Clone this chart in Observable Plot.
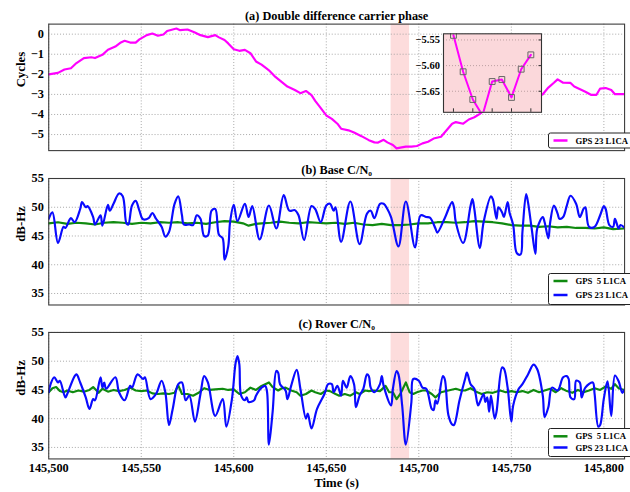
<!DOCTYPE html>
<html>
<head>
<meta charset="utf-8">
<script src="https://cdn.jsdelivr.net/npm/d3@7"></script>
<script src="https://cdn.jsdelivr.net/npm/@observablehq/plot@0.6"></script>
<style>
  html, body { margin: 0; padding: 0; background: #fff; }
  #fig { position: relative; width: 630px; height: 492px; overflow: hidden; background: #fff; }
  #fig > svg { position: absolute; }
</style>
</head>
<body>
<div id="fig"></div>
<script>
// ---- time axis (GPS seconds of week) ----
const startTime = 145500;
const timeDomain = [145500, 145811.2];
const timeTicks = [145500, 145550, 145600, 145650, 145700, 145750, 145800];
const highlight = [{start: 145685, end: 145695}];

// ---- (a) double difference carrier phase, GPS 23 L1CA ----
const ddOffsets = [0, 5, 8.5, 12, 15, 19, 23, 25, 29, 32, 36, 39, 41, 44, 47, 49, 53, 56, 59, 62, 64, 69, 71, 75, 79, 82, 86, 90, 92, 95, 97, 100, 103, 106, 109, 112, 115, 118, 119, 122, 126, 129, 133, 136, 139, 142, 144, 146, 150, 153, 156, 158, 162, 165, 169, 173, 176, 178, 181, 183, 186, 188, 190, 193, 196, 199, 202, 205, 208, 212, 215, 218, 220, 224, 227, 230, 233, 236, 240, 245, 252, 257, 261, 263, 267, 270, 273, 275, 278, 282, 284, 288, 290, 293, 296, 298, 301, 304, 306, 309, 311];
const ddCycles = [-2.00, -1.93, -1.76, -1.70, -1.44, -1.19, -1.15, -1.19, -1.03, -0.78, -0.62, -0.41, -0.33, -0.42, -0.42, -0.26, -0.05, 0.03, -0.08, -0.02, 0.16, 0.28, 0.20, 0.23, 0.08, -0.05, -0.15, -0.05, -0.16, -0.29, -0.46, -0.75, -0.83, -0.78, -0.95, -1.36, -1.52, -1.73, -1.80, -2.09, -2.39, -2.61, -2.78, -2.94, -2.83, -3.04, -3.32, -3.56, -4.05, -4.22, -4.46, -4.71, -4.79, -4.90, -5.08, -5.28, -5.39, -5.40, -5.26, -5.39, -5.52, -5.69, -5.65, -5.60, -5.60, -5.57, -5.44, -5.36, -5.20, -5.11, -4.79, -4.46, -4.38, -4.46, -4.25, -4.14, -3.97, -3.73, -3.80, -3.85, -3.60, -3.40, -3.24, -3.18, -2.99, -2.66, -2.42, -2.25, -2.42, -2.43, -2.61, -2.78, -2.87, -3.02, -3.02, -2.71, -2.68, -2.78, -2.99, -2.99, -2.99];

// zoomed epochs inside the highlighted interval
const insetSample = [0, 1, 2, 3, 4, 5, 6, 7, 8];
const insetCycles = [-5.541, -5.612, -5.666, -5.697, -5.631, -5.627, -5.662, -5.607, -5.579];
const insetTicksX = [0, 2, 4, 6, 8];
const insetTicksY = [-5.65, -5.60, -5.55];

// ---- (b) base station C/N0 ----
const baseOffsets5 = [0, 5, 10, 15, 20, 25, 30, 35, 40, 45, 50, 55, 60, 65, 70, 75, 80, 85, 90, 95, 100, 105, 108, 112, 115, 120, 125, 130, 135, 140, 145, 150, 155, 160, 165, 170, 175, 180, 185, 190, 195, 200, 205, 210, 215, 220, 225, 230, 235, 240, 245, 250, 255, 260, 265, 270, 275, 280, 285, 290, 295, 300, 305, 311];
const baseCn5 = [47.2, 47.4, 47.1, 47.3, 47.2, 47.0, 47.3, 47.4, 47.3, 47.1, 47.3, 47.2, 47.4, 47.3, 47.4, 47.2, 47.3, 47.1, 47.4, 47.6, 47.5, 47.2, 46.8, 47.1, 47.2, 47.3, 47.5, 47.3, 47.2, 47.4, 47.3, 47.2, 47.3, 47.1, 47.3, 47.0, 46.9, 47.1, 46.9, 46.9, 47.0, 47.2, 47.2, 47.4, 47.4, 47.3, 47.4, 47.6, 47.5, 47.4, 47.2, 46.9, 46.8, 46.8, 46.6, 46.7, 46.5, 46.6, 46.4, 46.4, 46.3, 46.5, 46.2, 46.3];
const baseOffsets23 = [0, 2, 5, 8, 9, 12, 14, 17, 18, 20, 21, 24, 25, 28, 29, 32, 33, 35, 38, 40, 42, 43, 45, 47, 49, 51, 54, 56, 58, 61, 63, 65, 68, 70, 72, 73, 76, 78, 80, 82, 84, 86, 88, 90, 92, 94, 95, 97, 98, 100, 102, 106, 108, 110, 114, 119, 123, 127, 130, 133, 135, 138, 142, 144, 147, 150, 152, 154, 155, 158, 163, 168, 172, 174, 176, 179, 181, 183, 185, 189, 193, 198, 201, 204, 206, 209, 210, 214, 218, 219, 220, 224, 228, 229, 230, 233, 235, 239, 240, 242, 243, 245, 246, 248, 249, 251, 253, 255, 256, 258, 259, 261, 263, 264, 267, 268, 270, 271, 273, 275, 276, 278, 280, 282, 285, 287, 289, 290, 292, 295, 298, 300, 301, 303, 305, 306, 308, 309, 311];
const baseCn23 = [48.0, 49.1, 43.8, 46.6, 46.4, 48.1, 47.4, 49.7, 50.9, 50.0, 50.2, 48.3, 47.0, 48.6, 46.8, 50.4, 49.4, 50.6, 52.4, 51.9, 47.2, 47.0, 50.3, 51.1, 49.4, 47.9, 48.1, 49.0, 48.0, 46.6, 44.9, 45.7, 50.6, 51.9, 48.6, 47.0, 47.0, 46.9, 48.6, 48.0, 45.0, 45.1, 49.4, 49.7, 45.2, 44.6, 40.9, 43.2, 47.4, 50.4, 47.6, 50.6, 48.3, 50.2, 44.4, 50.3, 46.3, 52.1, 49.4, 49.5, 48.6, 44.3, 50.2, 49.7, 47.4, 50.3, 50.6, 49.4, 50.0, 44.0, 51.0, 43.6, 48.9, 49.4, 48.1, 50.6, 50.6, 49.7, 48.3, 43.2, 51.0, 43.0, 48.6, 48.3, 48.2, 46.3, 45.6, 48.1, 50.9, 50.0, 47.4, 43.8, 50.3, 51.4, 49.7, 42.9, 47.4, 51.9, 51.4, 48.0, 50.0, 49.1, 48.3, 50.9, 49.1, 46.9, 42.0, 41.8, 45.7, 52.3, 50.9, 46.3, 41.9, 46.3, 48.3, 47.4, 44.6, 47.4, 50.3, 48.9, 48.0, 48.3, 50.3, 52.0, 50.6, 48.3, 49.7, 50.0, 46.6, 46.6, 48.6, 50.2, 49.7, 46.9, 46.6, 48.0, 46.3, 46.9, 46.5];

// ---- (c) rover C/N0 ----
const roverOffsets5 = [0, 2, 4, 6, 8, 10, 13, 16, 19, 22, 24, 27, 29, 32, 35, 38, 41, 44, 47, 50, 53, 56, 59, 62, 65, 68, 70, 72, 75, 78, 81, 84, 87, 90, 94, 97, 100, 103, 106, 109, 112, 115, 117, 119, 121, 124, 126, 128, 131, 134, 136, 139, 142, 144, 147, 150, 152, 155, 157, 160, 163, 166, 168, 171, 173, 176, 179, 182, 184, 186, 188, 190, 193, 195, 197, 199, 202, 204, 207, 209, 212, 216, 220, 223, 225, 228, 231, 234, 237, 240, 244, 247, 250, 253, 256, 259, 262, 265, 268, 271, 274, 277, 280, 283, 286, 289, 292, 295, 298, 301, 304, 306, 308, 311];
const roverCn5 = [44.6, 45.3, 45.5, 44.8, 44.6, 44.9, 44.6, 44.9, 44.7, 45.0, 45.5, 44.5, 45.2, 44.7, 45.0, 44.8, 45.0, 45.4, 44.9, 44.8, 44.9, 44.4, 44.3, 44.4, 44.3, 44.5, 45.8, 44.3, 44.3, 44.0, 44.5, 45.3, 45.0, 45.1, 45.2, 45.0, 45.1, 44.3, 44.6, 45.4, 45.0, 45.7, 46.0, 46.3, 45.5, 44.9, 45.3, 45.4, 44.9, 44.6, 44.0, 44.3, 44.9, 44.6, 44.3, 44.9, 44.8, 44.3, 44.0, 44.3, 44.0, 44.6, 44.3, 44.9, 44.8, 44.9, 44.8, 45.7, 44.6, 44.6, 43.4, 44.3, 46.3, 44.6, 44.3, 44.6, 44.9, 44.9, 44.3, 43.7, 44.6, 44.9, 45.2, 44.9, 44.9, 45.3, 44.7, 44.3, 44.6, 44.5, 44.9, 44.6, 44.8, 44.6, 44.8, 44.5, 45.0, 44.6, 44.9, 45.2, 44.6, 45.3, 44.8, 44.5, 45.0, 44.6, 44.9, 45.3, 45.0, 45.6, 45.2, 46.0, 45.3, 45.0];
const roverOffsets23 = [0, 1, 3, 5, 6, 9, 10, 14, 15, 17, 20, 22, 24, 25, 28, 29, 30, 31, 36, 38, 41, 44, 45, 48, 51, 52, 55, 58, 61, 63, 65, 67, 70, 72, 74, 76, 79, 82, 84, 86, 90, 94, 96, 99, 101, 102, 103, 104, 106, 107, 108, 111, 112, 115, 117, 118, 119, 121, 123, 124, 125, 128, 129, 131, 134, 136, 139, 140, 142, 145, 149, 151, 153, 154, 156, 158, 159, 161, 163, 165, 166, 168, 170, 172, 173, 174, 176, 179, 180, 181, 185, 186, 188, 189, 191, 193, 196, 197, 200, 202, 204, 207, 208, 209, 210, 213, 214, 216, 218, 219, 222, 225, 226, 228, 230, 232, 233, 235, 236, 237, 238, 239, 241, 242, 245, 246, 248, 250, 251, 254, 256, 259, 262, 264, 267, 268, 270, 272, 275, 278, 280, 281, 282, 284, 285, 287, 288, 290, 294, 295, 297, 298, 300, 302, 304, 306, 308, 310, 311];
const roverCn23 = [44.6, 46.0, 47.2, 46.3, 46.6, 43.7, 44.3, 47.4, 47.7, 46.3, 43.7, 41.7, 43.4, 43.2, 47.2, 45.4, 46.3, 45.2, 47.2, 44.6, 43.2, 45.7, 45.4, 47.7, 46.9, 47.2, 43.4, 44.3, 46.6, 44.6, 38.9, 41.7, 46.0, 46.3, 43.2, 44.0, 39.5, 44.3, 47.4, 46.3, 40.5, 43.4, 38.6, 43.4, 49.7, 50.9, 49.5, 44.0, 43.2, 43.7, 42.9, 43.2, 44.0, 45.4, 45.7, 44.6, 35.5, 41.2, 48.3, 48.0, 46.0, 44.9, 43.4, 45.7, 48.5, 45.2, 40.0, 40.9, 38.3, 41.7, 44.3, 46.0, 46.0, 44.6, 45.7, 44.0, 46.6, 45.4, 47.4, 46.0, 42.0, 44.0, 45.2, 47.7, 47.4, 45.4, 44.6, 46.0, 47.4, 45.7, 42.3, 45.2, 48.3, 47.7, 42.3, 35.5, 42.9, 46.9, 46.6, 45.4, 45.2, 41.7, 41.5, 43.2, 42.6, 47.4, 46.9, 40.6, 39.0, 38.9, 43.2, 46.9, 48.0, 46.0, 45.2, 42.3, 42.9, 44.3, 42.9, 43.7, 41.2, 44.0, 40.0, 41.2, 48.9, 48.7, 45.4, 39.5, 42.3, 45.2, 46.0, 47.7, 49.4, 48.6, 44.0, 40.3, 42.0, 45.4, 44.9, 47.2, 47.4, 46.9, 43.7, 43.4, 46.6, 46.3, 43.7, 45.4, 46.3, 44.3, 38.6, 38.9, 43.5, 46.5, 40.5, 47.5, 46.5, 44.5, 45.0];

const cnTicks = [35, 40, 45, 50, 55];
const phaseTicks = [-5, -4, -3, -2, -1, 0];

const magenta = "#ff00ff", green = "#0f8a0f", blue = "#0a0aff";
const legendA = [{label: "GPS 23 L1CA", color: magenta}];
const legendBC = [{label: "GPS\u00a0 5 L1CA", color: green}, {label: "GPS 23 L1CA", color: blue}];

const rows = (offsets, values) => offsets.map((o, i) => ({t: startTime + o, v: values[i]}));

const font = '"Liberation Serif", "Times New Roman", serif';
const gridStyle = {stroke: "#9c9c9c", strokeOpacity: 1, strokeWidth: 0.9, strokeDasharray: "1,2"};

function panel({title, yLabel, yDomain, yTicks, series, marginTop, plotHeight, marginBottom, showTime}) {
  const marks = [
    Plot.rect(highlight, {x1: "start", x2: "end", fill: "#fddcdc"}),
    Plot.gridX(timeTicks, gridStyle),
    Plot.gridY(yTicks, gridStyle),
    ...series.map(s => Plot.line(s.data, {x: "t", y: "v", stroke: s.color, strokeWidth: 2.2, curve: s.curve || "linear", clip: true})),
    Plot.frame({stroke: "#3a3a3a", strokeWidth: 1.1}),
    Plot.axisY(yTicks, {tickSize: 0, tickPadding: 5, fontSize: 12.5, label: null}),
    Plot.text([title], {frameAnchor: "top", lineAnchor: "middle", dy: -8.5, fontSize: 12.5, fontWeight: "bold"}),
    Plot.text([yLabel], {frameAnchor: "left", lineAnchor: "middle", dx: -28.5, rotate: -90, fontSize: 13, fontWeight: "bold"})
  ];
  if (showTime) {
    marks.push(
      Plot.axisX(timeTicks, {tickSize: 0, tickPadding: 4, fontSize: 12.5, tickFormat: d3.format(","), label: null}),
      Plot.text(["Time (s)"], {frameAnchor: "bottom", lineAnchor: "middle", dy: 24, fontSize: 13, fontWeight: "bold"})
    );
  }
  return Plot.plot({
    width: 640,
    height: marginTop + plotHeight + marginBottom,
    marginLeft: 49, marginRight: 6, marginTop, marginBottom,
    style: {fontFamily: font, fontWeight: "bold", fontSize: "12px", color: "#000", background: "transparent", overflow: "visible"},
    x: {domain: timeDomain, axis: showTime ? undefined : null},
    y: {domain: yDomain},
    marks
  });
}

const fig = document.getElementById("fig");

const panelA = panel({
  title: "(a) Double difference carrier phase", yLabel: "Cycles",
  yDomain: [-5.8, 0.5], yTicks: phaseTicks,
  series: [{data: rows(ddOffsets, ddCycles), color: magenta}],
  marginTop: 24, plotHeight: 128.5, marginBottom: 3.5
});
panelA.style.left = "0px"; panelA.style.top = "0px";
fig.append(panelA);

const panelB = panel({
  title: "(b) Base C/N\u2080", yLabel: "dB-Hz",
  yDomain: [33, 55], yTicks: cnTicks,
  series: [{data: rows(baseOffsets5, baseCn5), color: green},
           {data: rows(baseOffsets23, baseCn23), color: blue, curve: "catmull-rom"}],
  marginTop: 18.3, plotHeight: 128.5, marginBottom: 3
});
panelB.style.left = "0px"; panelB.style.top = "160px";
fig.append(panelB);

const panelC = panel({
  title: "(c) Rover C/N\u2080", yLabel: "dB-Hz",
  yDomain: [33, 55], yTicks: cnTicks,
  series: [{data: rows(roverOffsets5, roverCn5), color: green},
           {data: rows(roverOffsets23, roverCn23), color: blue, curve: "catmull-rom"}],
  marginTop: 22.3, plotHeight: 128.5, marginBottom: 31,
  showTime: true
});
panelC.style.left = "0px"; panelC.style.top = "310px";
fig.append(panelC);

// zoomed view of the highlighted epochs
const insetRows = insetSample.map((s, i) => ({s, v: insetCycles[i]}));
const inset = Plot.plot({
  width: 145, height: 86,
  marginLeft: 43, marginRight: 4, marginTop: 3.3, marginBottom: 4.2,
  style: {fontFamily: font, fontWeight: "bold", fontSize: "10.5px", color: "#000", background: "transparent", overflow: "visible"},
  x: {domain: [-1.03, 9.1], axis: null},
  y: {domain: [-5.691, -5.538]},
  marks: [
    Plot.frame({fill: "#fbd8db"}),
    Plot.gridY(insetTicksY, {...gridStyle, stroke: "#b49a9c"}),
    Plot.line(insetRows, {x: "s", y: "v", stroke: magenta, strokeWidth: 2, clip: true}),
    Plot.dot(insetRows, {x: "s", y: "v", symbol: "square", r: 3.3, stroke: "#666", strokeWidth: 1, fill: "none", clip: true}),
    Plot.axisX(insetTicksX, {anchor: "bottom", tickSize: -3.5, tickFormat: () => "", label: null, stroke: "#333"}),
    Plot.axisY(insetTicksY, {anchor: "right", tickSize: -3.5, tickFormat: () => "", label: null, stroke: "#333"}),
    Plot.axisY(insetTicksY, {anchor: "left", tickSize: 0, tickPadding: 3.5, tickFormat: d3.format(".2f"), label: null}),
    Plot.frame({stroke: "#333", strokeWidth: 1.1})
  ]
});
inset.style.left = "400px"; inset.style.top = "30px";
fig.append(inset);

// legend boxes
const overlay = d3.create("svg").attr("width", 630).attr("height", 492)
  .style("left", "0px").style("top", "0px").style("pointer-events", "none");
function legend(entries, x, y, h, rowYs) {
  const g = overlay.append("g");
  g.append("rect").attr("x", x).attr("y", y).attr("width", 120).attr("height", h)
    .attr("rx", 2).attr("fill", "#fff").attr("stroke", "#222").attr("stroke-width", 1);
  entries.forEach((e, i) => {
    g.append("line").attr("x1", x + 5).attr("x2", x + 19).attr("y1", rowYs[i]).attr("y2", rowYs[i])
      .attr("stroke", e.color).attr("stroke-width", 2.5);
    g.append("text").attr("x", x + 27).attr("y", rowYs[i]).attr("dy", "0.35em")
      .attr("font-family", font).attr("font-weight", "bold").attr("font-size", 8.7)
      .text(e.label);
  });
}
legend(legendA, 548.5, 133, 15, [140.5]);
legend(legendBC, 548.5, 273.5, 31, [281, 295]);
legend(legendBC, 548.5, 428.5, 28, [436.3, 447.5]);
fig.append(overlay.node());
</script>
</body>
</html>
